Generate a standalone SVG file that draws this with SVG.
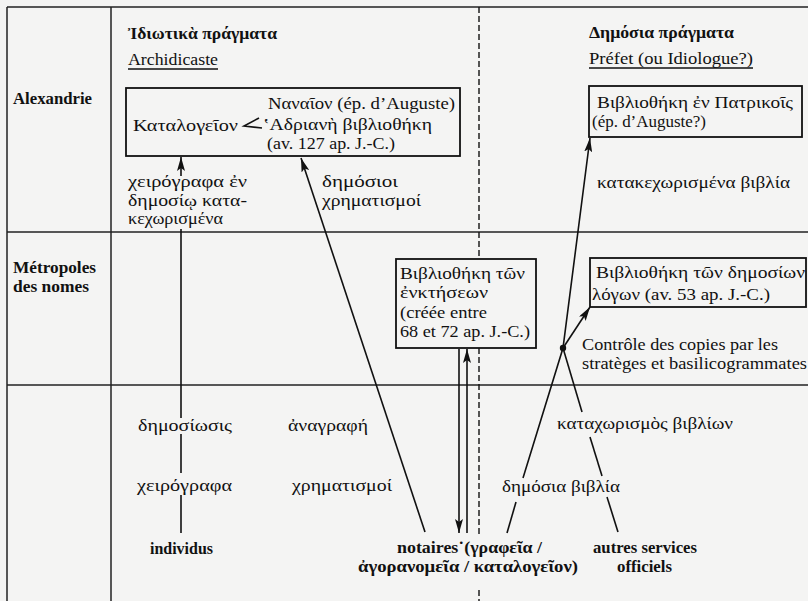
<svg xmlns="http://www.w3.org/2000/svg" width="808" height="601" viewBox="0 0 808 601">
<defs>
<marker id="ah" viewBox="0 0 14 8" refX="14" refY="4" markerWidth="14" markerHeight="8" markerUnits="userSpaceOnUse" orient="auto">
<path d="M0,0 L14,4 L0,8 L3,4 z" fill="#111"/>
</marker>
<style>
text{font-family:"Liberation Serif","DejaVu Serif",serif;fill:#111;font-size:17.5px}
.b{font-weight:bold;font-size:16px}
.s{font-size:16px}
.grid{stroke:#222;stroke-width:1.5;fill:none}
.box{stroke:#111;stroke-width:1.8;fill:none}
.ln{stroke:#111;stroke-width:1.6;fill:none}
.ar{stroke:#111;stroke-width:1.6;fill:none;marker-end:url(#ah)}
.dash{stroke:#111;stroke-width:1.4;stroke-dasharray:6 3;fill:none}
</style>
</defs>
<rect width="808" height="601" fill="#f4f4f3"/>
<g id="grid">
<line class="grid" x1="7" y1="7" x2="808" y2="7"/>
<line class="grid" x1="7" y1="7" x2="7" y2="601"/>
<line class="grid" x1="111" y1="7" x2="111" y2="601"/>
<line class="grid" x1="7" y1="232" x2="808" y2="232"/>
<line class="grid" x1="7" y1="385" x2="808" y2="385"/>
<line class="dash" x1="479" y1="7" x2="479" y2="259"/>
<line class="dash" x1="479" y1="348" x2="479" y2="537"/>
<line class="dash" x1="479" y1="590" x2="479" y2="601"/>
</g>
<g id="rowlabels">
<text class="b" x="13" y="104" textLength="79" lengthAdjust="spacingAndGlyphs">Alexandrie</text>
<text class="b" x="13" y="273" textLength="83" lengthAdjust="spacingAndGlyphs">Métropoles</text>
<text class="b" x="13" y="292" textLength="76" lengthAdjust="spacingAndGlyphs">des nomes</text>
</g>
<g id="headers">
<text class="b" x="128" y="39" textLength="149" lengthAdjust="spacingAndGlyphs">Ἰδιωτικὰ πράγματα</text>
<text x="128" y="65" textLength="90" lengthAdjust="spacingAndGlyphs">Archidicaste</text>
<line class="ln" x1="128" y1="69" x2="218" y2="69" stroke-width="1.2"/>
<text class="b" x="589" y="38" textLength="145" lengthAdjust="spacingAndGlyphs">Δημόσια πράγματα</text>
<text x="589" y="64" textLength="164" lengthAdjust="spacingAndGlyphs">Préfet (ou Idiologue?)</text>
<line class="ln" x1="589" y1="68" x2="753" y2="68" stroke-width="1.2"/>
</g>
<g id="node-alexandrie">
<rect class="box" x="126" y="88" width="334" height="68"/>
<text x="133" y="131" textLength="105" lengthAdjust="spacingAndGlyphs">Καταλογεῖον</text>
<text x="268" y="109" textLength="187" lengthAdjust="spacingAndGlyphs">Ναναῖον (ép. d’Auguste)</text>
<text x="263" y="130" textLength="169" lengthAdjust="spacingAndGlyphs">ʽΑδριανὴ βιβλιοθήκη</text>
<text x="267" y="149" textLength="128" lengthAdjust="spacingAndGlyphs">(av. 127 ap. J.-C.)</text>
<polyline class="ln" points="259,118 244,126 262,128" stroke-width="1.3"/>
</g>
<g id="node-patrikois">
<rect class="box" x="589" y="86" width="213" height="51"/>
<text x="597" y="108" textLength="196" lengthAdjust="spacingAndGlyphs">Βιβλιοθήκη ἐν Πατρικοῖς</text>
<text x="592" y="127" textLength="114" lengthAdjust="spacingAndGlyphs">(ép. d’Auguste?)</text>
</g>
<g id="node-enktesis">
<rect class="box" x="396" y="259" width="140" height="89"/>
<text x="400" y="279" textLength="125" lengthAdjust="spacingAndGlyphs">Βιβλιοθήκη τῶν</text>
<text x="400" y="298" textLength="88" lengthAdjust="spacingAndGlyphs">ἐνκτήσεων</text>
<text x="400" y="318" textLength="87" lengthAdjust="spacingAndGlyphs">(créée entre</text>
<text x="400" y="337" textLength="130" lengthAdjust="spacingAndGlyphs">68 et 72 ap. J.-C.)</text>
</g>
<g id="node-demosion">
<rect class="box" x="590" y="258" width="216" height="49"/>
<text x="596" y="278" textLength="209" lengthAdjust="spacingAndGlyphs">Βιβλιοθήκη τῶν δημοσίων</text>
<text x="592" y="300" textLength="178" lengthAdjust="spacingAndGlyphs">λόγων (av. 53 ap. J.-C.)</text>
</g>
<g id="node-individus"><text class="b" x="150" y="554" textLength="63" lengthAdjust="spacingAndGlyphs">individus</text></g>
<g id="node-notaires">
<text class="b" x="397" y="553" textLength="145" lengthAdjust="spacingAndGlyphs">notaires˙(γραφεῖα /</text>
<text class="b" x="358" y="572" textLength="220" lengthAdjust="spacingAndGlyphs">ἀγορανομεῖα / καταλογεῖον)</text>
</g>
<g id="node-autres">
<text class="b" x="593" y="553" textLength="104" lengthAdjust="spacingAndGlyphs">autres services</text>
<text class="b" x="617" y="572" textLength="55" lengthAdjust="spacingAndGlyphs">officiels</text>
</g>
<g id="labels">
<text class="s" x="128" y="187" textLength="119" lengthAdjust="spacingAndGlyphs">χειρόγραφα ἐν</text>
<text class="s" x="128" y="205.5" textLength="119" lengthAdjust="spacingAndGlyphs">δημοσίῳ κατα-</text>
<text class="s" x="128" y="224" textLength="95" lengthAdjust="spacingAndGlyphs">κεχωρισμένα</text>
<text x="322" y="187" textLength="76" lengthAdjust="spacingAndGlyphs">δημόσιοι</text>
<text x="322" y="206" textLength="99" lengthAdjust="spacingAndGlyphs">χρηματισμοί</text>
<text x="597" y="188" textLength="193" lengthAdjust="spacingAndGlyphs">κατακεχωρισμένα βιβλία</text>
<text x="582" y="350" textLength="196" lengthAdjust="spacingAndGlyphs">Contrôle des copies par les</text>
<text x="582" y="369" textLength="225" lengthAdjust="spacingAndGlyphs">stratèges et basilicogrammates</text>
<text x="138" y="431" textLength="94" lengthAdjust="spacingAndGlyphs">δημοσίωσις</text>
<text x="137" y="491" textLength="95" lengthAdjust="spacingAndGlyphs">χειρόγραφα</text>
<text x="288" y="431" textLength="80" lengthAdjust="spacingAndGlyphs">ἀναγραφή</text>
<text x="292" y="491" textLength="100" lengthAdjust="spacingAndGlyphs">χρηματισμοί</text>
<text x="557" y="429" textLength="176" lengthAdjust="spacingAndGlyphs">καταχωρισμὸς βιβλίων</text>
<text x="502" y="492" textLength="118" lengthAdjust="spacingAndGlyphs">δημόσια βιβλία</text>
</g>
<g id="connectors">
<line class="ln" x1="181" y1="533" x2="181" y2="495"/>
<line class="ln" x1="181" y1="473" x2="181" y2="434"/>
<line class="ln" x1="181" y1="418" x2="181" y2="229"/>
<line class="ar" x1="181" y1="176" x2="181" y2="157"/>
<line class="ar" x1="425" y1="532" x2="301" y2="158"/>
<line class="ar" x1="459" y1="349" x2="459" y2="533"/>
<line class="ar" x1="467" y1="533" x2="467" y2="349"/>
<line class="ln" x1="507" y1="533" x2="516" y2="502"/>
<polyline class="ar" points="523,478 563,348 590,138"/>
<line class="ar" x1="563" y1="348" x2="590" y2="307"/>
<line class="ln" x1="563" y1="348" x2="582" y2="412"/>
<line class="ln" x1="590" y1="437" x2="602" y2="476"/>
<line class="ln" x1="607" y1="497" x2="618" y2="532"/>
<circle cx="563" cy="348" r="3.2" fill="#111"/>
</g>
</svg>
